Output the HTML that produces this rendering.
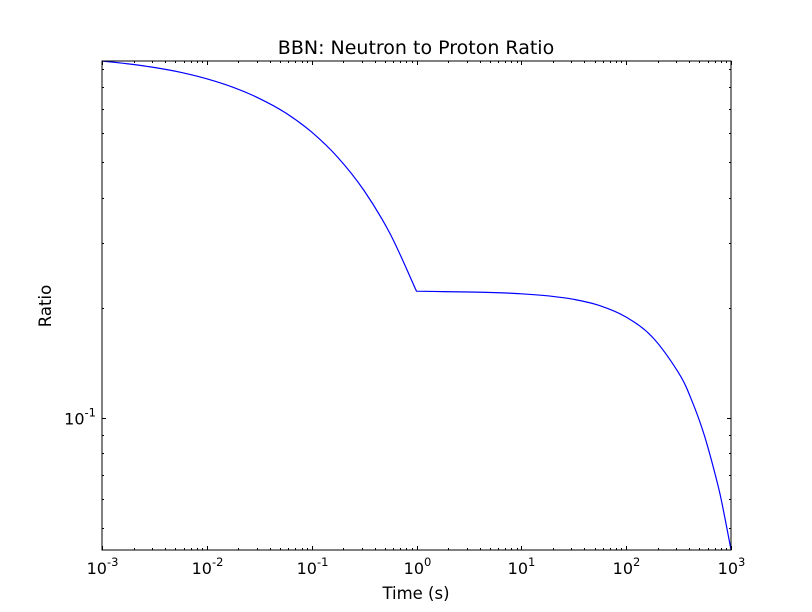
<!DOCTYPE html>
<html><head><meta charset="utf-8"><style>
body{margin:0;background:#fff;}
svg{display:block;font-family:"DejaVu Sans","Liberation Sans",sans-serif;}
</style></head><body>
<svg id="chart" width="812" height="612" xmlns="http://www.w3.org/2000/svg">
<rect width="812" height="612" fill="#fff"/>
<text x="416" y="54" text-anchor="middle" font-size="19">BBN: Neutron to Proton Ratio</text>
<text x="416" y="599" text-anchor="middle" font-size="16.5">Time (s)</text>
<text transform="translate(51,306) rotate(-90)" text-anchor="middle" font-size="16.5">Ratio</text>
<g id="ticks"></g>
<path id="curve" fill="none" stroke="#0000ff" stroke-width="1.2"/>
<rect x="102" y="61" width="629" height="489" fill="none" stroke="#000" stroke-width="1"/>
</svg>
<script>
const times = [0.001, 0.00178, 0.00316, 0.00562, 0.01, 0.0178, 0.0316, 0.0562, 0.1, 0.178, 0.316, 0.562, 1.0, 1.78, 3.16, 5.62, 10, 17.8, 31.6, 56.2, 100, 178, 316, 422, 562, 750, 866, 1000];
const ratios = [0.945, 0.928, 0.907, 0.880, 0.845, 0.801, 0.747, 0.682, 0.604, 0.515, 0.418, 0.318, 0.222, 0.2214, 0.2209, 0.2200, 0.2184, 0.2156, 0.2109, 0.2026, 0.1886, 0.1663, 0.1328, 0.1117, 0.0888, 0.0655, 0.0541, 0.0436];
const xDecades = [-3, -2, -1, 0, 1, 2, 3];
const yMajor = [-1];
const yLimits = [0.04355, 0.945];
const xLimits = [0.001, 1000];
const kinkTime = 1.0;

const L=102,R=731,T=61,B=550;
function xs(t){return L+(Math.log10(t)-Math.log10(xLimits[0]))/(Math.log10(xLimits[1])-Math.log10(xLimits[0]))*(R-L);}
function ys(v){return B-(Math.log10(v)-Math.log10(yLimits[0]))/(Math.log10(yLimits[1])-Math.log10(yLimits[0]))*(B-T);}
const NS="http://www.w3.org/2000/svg";
const g=document.getElementById('ticks');
function line(x1,y1,x2,y2,name){
  const l=document.createElementNS(NS,'line');
  l.setAttribute('x1',x1);l.setAttribute('y1',y1);l.setAttribute('x2',x2);l.setAttribute('y2',y2);
  l.setAttribute('stroke','#000');l.setAttribute('stroke-width','1');
  
  
  g.appendChild(l);
}
xDecades.forEach(d=>{
  const x=Math.round(xs(Math.pow(10,d)))+0.5;
  line(x,B,x,B-4,'x-major-tick');line(x,T,x,T+4,'x-major-tick');
  const t=document.createElementNS(NS,'text');
  t.setAttribute('x',x);t.setAttribute('y',B+24);t.setAttribute('text-anchor','middle');t.setAttribute('font-size','16');
  
  
  t.innerHTML='10<tspan dy="-8" font-size="11.5">'+(d<0?'-'+(-d):d)+'</tspan>';
  g.appendChild(t);
  if(d<xDecades[xDecades.length-1]){
    for(let k=2;k<10;k++){
      const xm=Math.round(xs(k*Math.pow(10,d)))+0.5;
      line(xm,B,xm,B-2,'x-minor-tick');line(xm,T,xm,T+2,'x-minor-tick');
    }
  }
});
for(let d=-2;d<=0;d++){
  for(let k=1;k<10;k++){
    const v=k*Math.pow(10,d);
    if(v<yLimits[0]||v>yLimits[1])continue;
    const y=Math.round(ys(v))+0.5;
    const major=yMajor.includes(d)&&k===1;
    const len=major?4:2;
    line(L,y,L+len,y,major?'y-major-tick':'y-minor-tick');line(R,y,R-len,y,major?'y-major-tick':'y-minor-tick');
    if(major){
      const t=document.createElementNS(NS,'text');
      t.setAttribute('x',L-6);t.setAttribute('y',y+6);t.setAttribute('text-anchor','end');t.setAttribute('font-size','16');
      
      
      t.innerHTML='10<tspan dy="-8" font-size="11.5">'+d+'</tspan>';
      g.appendChild(t);
    }
  }
}
const pts=times.map((t,i)=>[xs(t),ys(ratios[i])]);
const kIdx=times.indexOf(kinkTime);
function seg(p){
  let d='';
  for(let i=0;i<p.length-1;i++){
    const p0=p[Math.max(0,i-1)],p1=p[i],p2=p[i+1],p3=p[Math.min(p.length-1,i+2)];
    const c1=[p1[0]+(p2[0]-p0[0])/6,p1[1]+(p2[1]-p0[1])/6];
    const c2=[p2[0]-(p3[0]-p1[0])/6,p2[1]-(p3[1]-p1[1])/6];
    d+=' C'+c1.map(v=>v.toFixed(1)).join(',')+' '+c2.map(v=>v.toFixed(1)).join(',')+' '+p2.map(v=>v.toFixed(1)).join(',');
  }
  return d;
}
const a=pts.slice(0,kIdx>=0?kIdx+1:pts.length), b=kIdx>=0?pts.slice(kIdx):[];
let dStr='M'+a[0][0].toFixed(1)+','+a[0][1].toFixed(1)+seg(a);
if(b.length>1)dStr+=seg(b);
document.getElementById('curve').setAttribute('d',dStr);
</script>
</body></html>
